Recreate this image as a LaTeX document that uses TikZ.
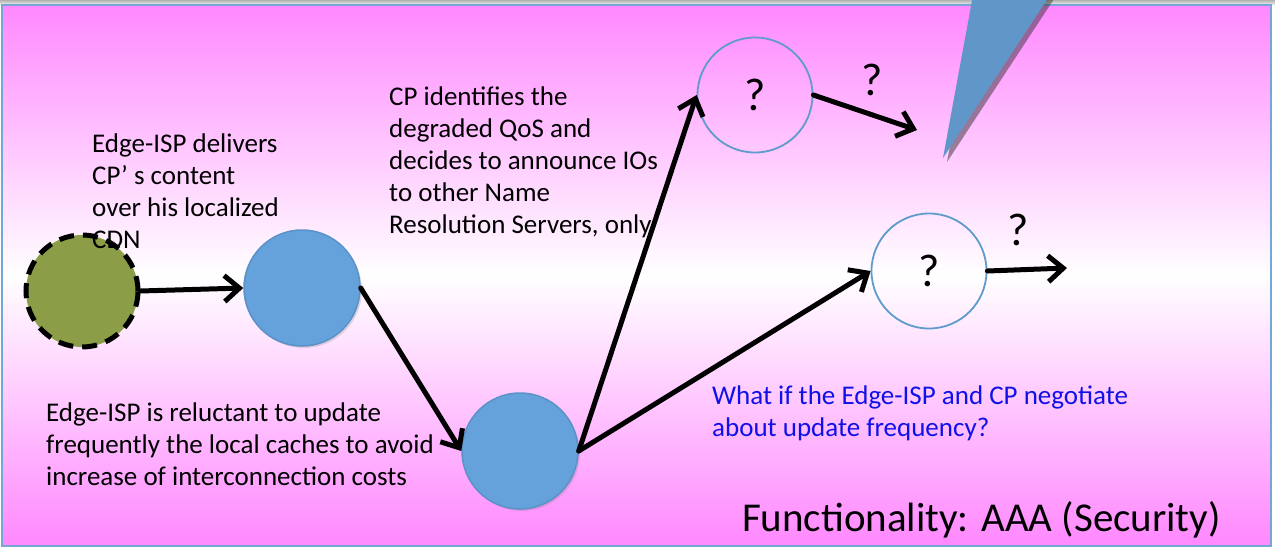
\documentclass[tikz,border=0pt]{standalone}
\usepackage{fontspec}
\setmainfont{Carlito}
\usetikzlibrary{arrows.meta,shadows}
\definecolor{pinkbg}{HTML}{FF88FF}
\definecolor{nodeblue}{HTML}{65A1DB}
\definecolor{nodeblueedge}{HTML}{5A92C8}
\definecolor{ringblue}{HTML}{5F9BCB}
\definecolor{olive}{HTML}{8B9D47}
\definecolor{wedgeblue}{HTML}{6096C8}
\definecolor{framblue}{HTML}{74A6D8}
\definecolor{qblue}{HTML}{1010E8}
\tikzset{
  bluenode/.style={circle,minimum size=116pt,inner sep=0pt,fill=nodeblue,draw=nodeblueedge,line width=1.5pt,
     drop shadow={shadow xshift=2pt,shadow yshift=-2pt,opacity=0.25}},
  ringnode/.style={circle,minimum size=115pt,inner sep=0pt,draw=ringblue,line width=1.8pt,font=\fontsize{46}{50}\selectfont},
  greennode/.style={circle,minimum size=112pt,inner sep=0pt,fill=olive,draw=black,line width=5pt,dash pattern=on 15pt off 9pt},
  conn/.style={line width=5pt,-{Straight Barb[length=15pt,width=26pt,line width=5pt]},line cap=round},
  txt/.style={inner sep=0pt,anchor=north west,align=left,font=\fontsize{27}{32}\selectfont},
  qlabel/.style={inner sep=0pt,font=\fontsize{46}{50}\selectfont}
}
\begin{document}
\begin{tikzpicture}[x=1pt,y=-1pt]
\useasboundingbox (0,0) rectangle (1275,549);
% frame & background
\fill[white] (0,0) rectangle (1275,549);
\shade[top color=gray!60,bottom color=gray!20] (0,0) rectangle (1275,4);
\shade[top color=pinkbg,bottom color=pinkbg,middle color=white,draw=framblue,line width=2pt] (2,5) rectangle (1271,546);
% wedge
\fill[wedgeblue,drop shadow={shadow xshift=4pt,shadow yshift=-4pt,opacity=0.5,fill=black!80}] (943,158) -- (973,-5) -- (1050,-5) -- cycle;
% nodes
\node[greennode] (g) at (82,291) {};
\node[bluenode] (b1) at (302,288) {};
\node[bluenode] (b2) at (520,451) {};
\node[ringnode] (c3) at (755,95) {?};
\node[ringnode] (c4) at (929,271) {?};
\coordinate (e3) at (917,130);
\coordinate (e4) at (1067,268);
% connectors
\draw[conn] (g.east) -- (b1.west);
\draw[conn] (b1.east) -- (b2.west);
\draw[conn] (b2.east) -- (c3.west);
\draw[conn] (b2.east) -- (c4.west);
\draw[conn] (c3.east) -- (e3);
\draw[conn] (c4.east) -- (e4);
% labels
\node[qlabel] (q3) at (872,80) {?};
\node[qlabel] (q4) at (1018,230) {?};
\node[txt] (t1) at (92,134) {Edge-ISP delivers\\CP’ s content\\over his localized\\CDN};
\node[txt] (t2) at (389,87) {CP identifies the\\degraded QoS and\\decides to announce IOs\\to other Name\\Resolution Servers, only};
\node[txt] (t3) at (46,403) {Edge-ISP is reluctant to update\\frequently the local caches to avoid\\increase of interconnection costs};
\node[txt,text=qblue] (t4) at (712,386) {What if the Edge-ISP and CP negotiate\\about update frequency?};
\node[inner sep=0pt,anchor=base east,font=\fontsize{41}{44}\selectfont] (t5) at (1221,531) {Functionality: AAA (Security)};
\end{tikzpicture}
\end{document}
